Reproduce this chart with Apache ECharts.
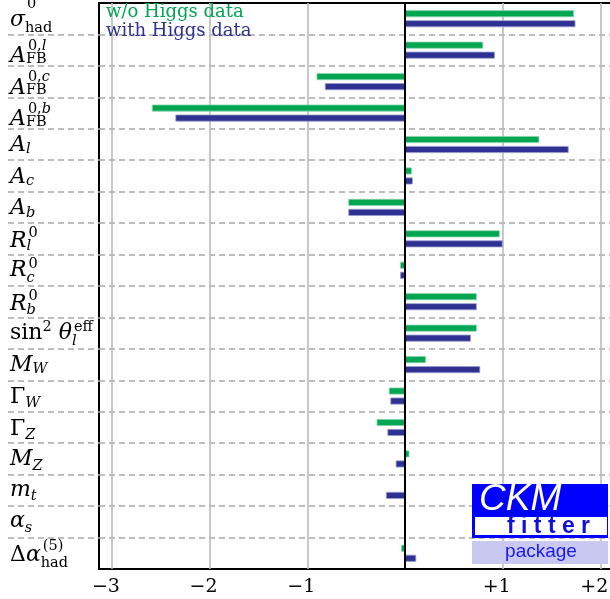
<!DOCTYPE html>
<html><head><meta charset="utf-8">
<script src="https://cdn.jsdelivr.net/npm/echarts@6/dist/echarts.min.js"></script>
<style>html,body{margin:0;padding:0;background:#fff}#c{width:610px;height:599px}</style>
</head><body><div id="c"></div>
<script>
// ---------------- data ----------------
const categories = ['sigma_had0','AFB0l','AFB0c','AFB0b','Al','Ac','Ab','Rl0','Rc0','Rb0','sin2theta_eff','MW','GammaW','GammaZ','MZ','mt','alphas','Dalpha5had'];
const seriesNames = ['w/o Higgs data', 'with Higgs data'];
const withoutHiggs = [1.73, 0.80, -0.905, -2.59, 1.375, 0.07, -0.58, 0.97, -0.05, 0.735, 0.735, 0.215, -0.165, -0.29, 0.045, -0.01, 0.0, -0.04];
const withHiggs    = [1.745, 0.92, -0.82, -2.35, 1.675, 0.08, -0.58, 1.00, -0.05, 0.735, 0.675, 0.77, -0.15, -0.18, -0.095, -0.195, 0.005, 0.115];
const xTickValues = [-3, -2, -1, 1, 2];
const xTickLabels = ['\u22123', '\u22122', '\u22121', '+1', '+2'];
// label text pieces: [text, kind]  kind: m=main, s=sub, u=sup inline, U=sup stacked over sub; i=italic r=roman
const labelParts = [
  [['σ','mi'],['had','sr'],['0','Ur']],
  [['A','mi'],['FB','sr'],['0,','Ur'],['l','Ui']],
  [['A','mi'],['FB','sr'],['0,','Ur'],['c','Ui']],
  [['A','mi'],['FB','sr'],['0,','Ur'],['b','Ui']],
  [['A','mi'],['l','si']],
  [['A','mi'],['c','si']],
  [['A','mi'],['b','si']],
  [['R','mi'],['l','si'],['0','Ur']],
  [['R','mi'],['c','si'],['0','Ur']],
  [['R','mi'],['b','si'],['0','Ur']],
  [['sin','mr'],['2','ur'],[' ','mr'],['θ','mi'],['l','si'],['eff','Ur']],
  [['M','mi'],['W','si']],
  [['Γ','mr'],['W','si']],
  [['Γ','mr'],['Z','si']],
  [['M','mi'],['Z','si']],
  [['m','mi'],['t','si']],
  [['α','mi'],['s','si']],
  [['Δ','mr'],['α','mi'],['had','sr'],['(5)','Ur']]
];
// ---------------- layout (baseline offsets from row centre: main, sub, sup) ----------------
const labelBase = [
  [9.5,14.5,-9.5],[14,14,1],[14,14,1],[14,14,1.2],
  [8.5,9.5,0],[9,10.5,0],[9,10.5,0],
  [10,12.5,-0.5],[8,13,-1.5],[10.5,14,-0.5],[8,13,-1],
  [8.5,9.5,0],[9,12,0],[9.5,13,0],[7.5,12,0],[7.5,11,0],[7,11.5,0],[9.8,14.5,-2.5]
];
const FAM = 'DejaVu Serif';
const FS = 22, FSS = 14.5, K = 0.346;
const cv = document.createElement('canvas').getContext('2d');
function tw(t, it, size){ cv.font = (it?'italic ':'') + size + 'px "' + FAM + '"'; return cv.measureText(t).width; }

const mainRich = {}, supRich = {}, mainStr = [], supStr = [];
labelParts.forEach((parts, i) => {
  const [B, Bs, Bp] = labelBase[i];
  let m = '', s = '', x = 0, baseEnd = 0, baseItalic = false, firstStack = true;
  parts.forEach(([t, kind], j) => {
    const lvl = kind[0], it = kind[1] === 'i';
    const size = lvl === 'm' ? FS : FSS;
    const base = lvl === 'm' ? B : (lvl === 's' ? Bs : Bp);
    const d = base - K * size;
    const pad = d >= 0 ? [2*d, 0, 0, 0] : [0, 0, -2*d, 0];
    const name = 't' + i + '_' + j;
    const st = {fontFamily: FAM, fontStyle: it ? 'italic' : 'normal', fontSize: size, lineHeight: 20, color: '#000', padding: pad.slice()};
    if (lvl === 'U') {
      if (firstStack) { st.padding[3] = baseEnd + (baseItalic ? 2 : 1); firstStack = false; }
      supRich[name] = st; s += '{' + name + '|' + t + '}';
    } else {
      mainRich[name] = st; m += '{' + name + '|' + t + '}';
      x += tw(t, it, size);
      if (lvl === 'm') { baseEnd = x; baseItalic = it; }
    }
  });
  mainStr.push(m); supStr.push(s);
});

const chart = echarts.init(document.getElementById('c'), null, {renderer: 'canvas'});
const gridLine = {color: '#bbbbbb', width: 1.6};
const dashLine = {color: '#a8a8a8', width: 1.5, type: [6, 4]};
chart.setOption({
  animation: false,
  backgroundColor: '#fff',
  legend: {
    orient: 'vertical', left: 100, top: 3, padding: 0, itemGap: 0,
    itemWidth: 0, itemHeight: 17, selectedMode: false,
    itemStyle: {opacity: 0},
    textStyle: {fontFamily: FAM, fontSize: 18, lineHeight: 17},
    data: [
      {name: seriesNames[0], textStyle: {color: '#00a651'}},
      {name: seriesNames[1], textStyle: {color: '#2e3192'}}
    ]
  },
  grid: [
    {left: 99, right: -2, top: 3, bottom: 30, show: true, borderColor: '#000', borderWidth: 2,
     backgroundColor: 'transparent', containLabel: false, outerBoundsMode: 'none'},
    {left: 8, width: 91, top: 3, bottom: 30, containLabel: false, outerBoundsMode: 'none'}
  ],
  xAxis: [
    {type: 'value', gridIndex: 0, min: -3.132, max: 2.119,
     axisLine: {show: false}, axisTick: {show: false},
     splitLine: {show: true, showMinLine: false, showMaxLine: false, lineStyle: gridLine},
     axisLabel: {fontFamily: FAM, fontSize: 19, color: '#000', margin: 9, padding: [0, 12, 0, 0],
       formatter: v => { const k = xTickValues.findIndex(t => Math.abs(t - v) < 1e-6); return k < 0 ? '' : xTickLabels[k]; }}},
    {type: 'value', gridIndex: 1, min: 0, max: 1, show: false}
  ],
  yAxis: [
    {type: 'category', gridIndex: 0, position: 'left', inverse: true, data: categories,
     axisLine: {show: false}, axisTick: {show: false},
     axisLabel: {interval: 0, align: 'left', margin: 89, formatter: (v, i) => mainStr[i], rich: mainRich},
     splitLine: {show: true, interval: 0, showMinLine: false, showMaxLine: false, lineStyle: dashLine}},
    {type: 'category', gridIndex: 0, position: 'left', offset: 0, inverse: true, data: categories,
     axisLine: {show: false}, axisTick: {show: false}, splitLine: {show: false},
     axisLabel: {interval: 0, align: 'left', margin: 89, formatter: (v, i) => supStr[i], rich: supRich}},
    {type: 'category', gridIndex: 1, inverse: true, data: categories,
     axisLine: {show: false}, axisTick: {show: false}, axisLabel: {show: false},
     splitLine: {show: true, interval: 0, showMinLine: false, showMaxLine: false, lineStyle: dashLine}}
  ],
  series: [
    {name: seriesNames[0], type: 'bar', xAxisIndex: 0, yAxisIndex: 0, data: withoutHiggs,
     barWidth: 7, barGap: '43%', silent: true,
     itemStyle: {color: '#00a651', borderColor: '#8cd6ad', borderWidth: 0.8},
     markLine: {silent: true, symbol: 'none', label: {show: false},
       lineStyle: {color: '#000', width: 2, type: 'solid'}, data: [{xAxis: 0}]}},
    {name: seriesNames[1], type: 'bar', xAxisIndex: 0, yAxisIndex: 0, data: withHiggs,
     barWidth: 7, barGap: '43%', silent: true,
     itemStyle: {color: '#2e3192', borderColor: '#9a9cd0', borderWidth: 0.8}}
  ],
  graphic: [
    {type: 'rect', z: 100, shape: {x: 472, y: 484, width: 136, height: 54}, style: {fill: '#0000ff'}},
    {type: 'rect', z: 101, shape: {x: 475, y: 517, width: 132, height: 18}, style: {fill: '#ffffff'}},
    {type: 'text', z: 102, x: 479, y: 500, style: {text: 'CKM', fontFamily: 'Liberation Sans', fontStyle: 'italic', fontSize: 37, fill: '#ffffff', verticalAlign: 'middle'}},
    {type: 'text', z: 102, x: 507, y: 527, style: {text: 'f i t t e r', fontFamily: 'Liberation Sans', fontWeight: 'bold', fontSize: 23, fill: '#1010d8', verticalAlign: 'middle'}},
    {type: 'rect', z: 100, shape: {x: 472, y: 541, width: 136, height: 23}, style: {fill: '#c8c8f0'}},
    {type: 'text', z: 102, x: 541, y: 552, style: {text: 'package', fontFamily: 'Liberation Sans', fontSize: 19, fill: '#1a1aee', align: 'center', verticalAlign: 'middle'}}
  ]
});
</script></body></html>
